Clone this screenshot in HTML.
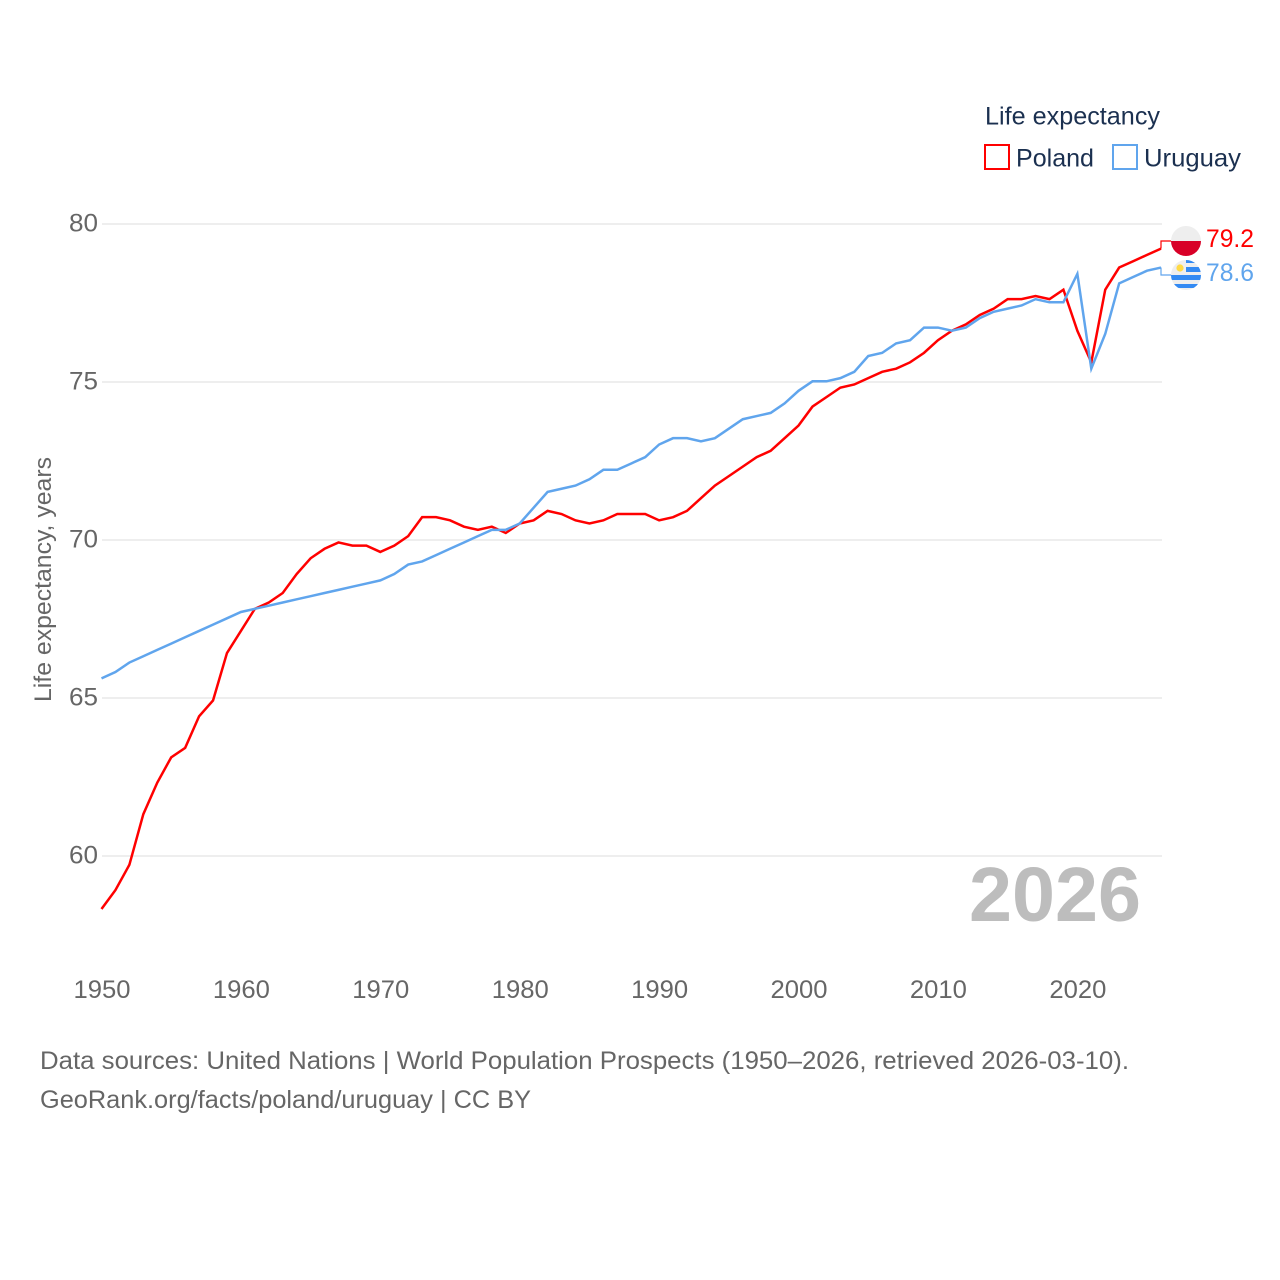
<!DOCTYPE html>
<html lang="en">
<head>
<meta charset="utf-8">
<title>Life expectancy: Poland vs Uruguay</title>
<style>
html,body{margin:0;padding:0;background:#fff;}
svg{display:block;}
text{font-family:"Liberation Sans",sans-serif;}
</style>
</head>
<body>
<svg id="chart" width="1280" height="1280" viewBox="0 0 1280 1280" xmlns="http://www.w3.org/2000/svg">
  <rect x="0" y="0" width="1280" height="1280" fill="#ffffff"/>
  <g id="grid"></g>
  <g id="yticks"></g>
  <g id="xticks"></g>
  <text transform="translate(51,702) rotate(-90)" font-size="24" fill="#666666" textLength="245" lengthAdjust="spacingAndGlyphs">Life expectancy, years</text>
  <text x="969" y="921" font-size="77" font-weight="700" fill="#bdbdbd" textLength="172" lengthAdjust="spacingAndGlyphs">2026</text>
  <g id="series"></g>

  <g>
    <text x="985" y="124.5" font-size="25" fill="#1b3050" textLength="175" lengthAdjust="spacingAndGlyphs">Life expectancy</text>
    <g>
      <rect x="985" y="145" width="24" height="24" fill="none" stroke="#ff0000" stroke-width="2"/>
      <text x="1016" y="166.5" font-size="25" fill="#1b3050" textLength="78" lengthAdjust="spacingAndGlyphs">Poland</text>
    </g>
    <g>
      <rect x="1113" y="145" width="24" height="24" fill="none" stroke="#60a5ed" stroke-width="2"/>
      <text x="1144" y="166.5" font-size="25" fill="#1b3050" textLength="97" lengthAdjust="spacingAndGlyphs">Uruguay</text>
    </g>
  </g>

  <defs>
    <clipPath id="clip-pl"><circle cx="1186" cy="241" r="15"/></clipPath>
    <clipPath id="clip-uy"><circle cx="1186" cy="275" r="15"/></clipPath>
  </defs>
  <g clip-path="url(#clip-pl)">
    <rect x="1171" y="226" width="30" height="15" fill="#eeeeee"/>
    <rect x="1171" y="241" width="30" height="15" fill="#d80027"/>
  </g>
  <g clip-path="url(#clip-uy)">
    <rect x="1171" y="260" width="30" height="30" fill="#eeeeee"/>
    <rect x="1186" y="260" width="15" height="3" fill="#338af3"/>
    <rect x="1186" y="267" width="15" height="5" fill="#338af3"/>
    <rect x="1171" y="275" width="30" height="5" fill="#338af3"/>
    <rect x="1171" y="284" width="30" height="4" fill="#338af3"/>
    <circle cx="1180" cy="268" r="3.6" fill="#ffda44"/>
  </g>
  <text id="end-poland" x="1206" y="247" font-size="25" fill="#ff0000" textLength="48" lengthAdjust="spacingAndGlyphs"></text>
  <text id="end-uruguay" x="1206" y="281" font-size="25" fill="#60a5ed" textLength="48" lengthAdjust="spacingAndGlyphs"></text>

  <g>
    <text x="40" y="1069" font-size="25" fill="#666666" textLength="1089" lengthAdjust="spacingAndGlyphs">Data sources: United Nations | World Population Prospects (1950–2026, retrieved 2026-03-10).</text>
    <text x="40" y="1108" font-size="25" fill="#666666" textLength="491" lengthAdjust="spacingAndGlyphs">GeoRank.org/facts/poland/uruguay | CC BY</text>
  </g>
</svg>
<script>
const startYear = 1950;
const xTickLabels = [1950, 1960, 1970, 1980, 1990, 2000, 2010, 2020];
const yTickLabels = [60, 65, 70, 75, 80];
const poland = [58.3,58.9,59.7,61.3,62.3,63.1,63.4,64.4,64.9,66.4,67.1,67.8,68.0,68.3,68.9,69.4,69.7,69.9,69.8,69.8,69.6,69.8,70.1,70.7,70.7,70.6,70.4,70.3,70.4,70.2,70.5,70.6,70.9,70.8,70.6,70.5,70.6,70.8,70.8,70.8,70.6,70.7,70.9,71.3,71.7,72.0,72.3,72.6,72.8,73.2,73.6,74.2,74.5,74.8,74.9,75.1,75.3,75.4,75.6,75.9,76.3,76.6,76.8,77.1,77.3,77.6,77.6,77.7,77.6,77.9,76.6,75.6,77.9,78.6,78.8,79.0,79.2];
const uruguay = [65.6,65.8,66.1,66.3,66.5,66.7,66.9,67.1,67.3,67.5,67.7,67.8,67.9,68.0,68.1,68.2,68.3,68.4,68.5,68.6,68.7,68.9,69.2,69.3,69.5,69.7,69.9,70.1,70.3,70.3,70.5,71.0,71.5,71.6,71.7,71.9,72.2,72.2,72.4,72.6,73.0,73.2,73.2,73.1,73.2,73.5,73.8,73.9,74.0,74.3,74.7,75.0,75.0,75.1,75.3,75.8,75.9,76.2,76.3,76.7,76.7,76.6,76.7,77.0,77.2,77.3,77.4,77.6,77.5,77.5,78.4,75.4,76.5,78.1,78.3,78.5,78.6];

const NS = 'http://www.w3.org/2000/svg';
function xScale(year) { return 101.5 + (year - 1950) * (1161 - 101.5) / 76; }
function yScale(v) { return 855.3 - (v - 60) * 632 / 20; }
function make(tag, attrs, parent) {
  const el = document.createElementNS(NS, tag);
  for (const k in attrs) el.setAttribute(k, attrs[k]);
  parent.appendChild(el);
  return el;
}

const gridG = document.getElementById('grid');
const yG = document.getElementById('yticks');
const xG = document.getElementById('xticks');
const seriesG = document.getElementById('series');

yTickLabels.forEach(function (v) {
  const gy = yScale(v) + 0.7;
  const line = make('line', {x1: 102, x2: 1162, y1: gy, y2: gy, stroke: '#eeeeee', 'stroke-width': 2}, gridG);
  
  
  const t = make('text', {x: 98, y: gy + 7.5, 'text-anchor': 'end', 'font-size': 25, fill: '#666666', textLength: 29, lengthAdjust: 'spacingAndGlyphs'}, yG);
  t.textContent = v;
  
  
});

xTickLabels.forEach(function (yr) {
  const t = make('text', {x: xScale(yr) - 28, y: 998, 'font-size': 25, fill: '#666666', textLength: 57, lengthAdjust: 'spacingAndGlyphs'}, xG);
  t.textContent = yr;
  
  
});

function drawSeries(values, color, key, labelY) {
  const pts = values.map(function (v, i) { return xScale(startYear + i).toFixed(2) + ',' + yScale(v).toFixed(2); });
  const line = make('polyline', {points: pts.join(' '), fill: 'none', stroke: color, 'stroke-width': 2.5, 'stroke-linejoin': 'miter'}, seriesG);
  
  
  const last = values[values.length - 1];
  const lx = xScale(startYear + values.length - 1);
  const ly = yScale(last);
  const leader = make('polyline', {points: lx + ',' + ly + ' ' + lx + ',' + labelY + ' 1172,' + labelY, fill: 'none', stroke: color, 'stroke-width': 1.2}, seriesG);
  
  
  document.getElementById('end-' + key).textContent = last.toFixed(1);
}
drawSeries(poland, '#ff0000', 'poland', 241);
drawSeries(uruguay, '#60a5ed', 'uruguay', 275);
</script>
</body>
</html>
